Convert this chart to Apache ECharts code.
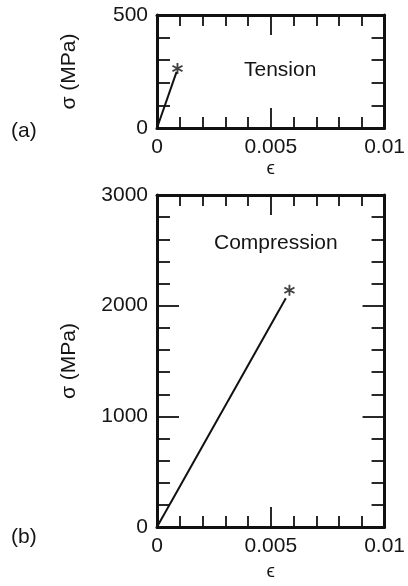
<!DOCTYPE html>
<html>
<head>
<meta charset="utf-8">
<script src="https://cdn.jsdelivr.net/npm/echarts@6/dist/echarts.min.js"></script>
<style>
html,body{margin:0;padding:0;background:#fff;}
#chart{width:408px;height:586px;}
</style>
</head>
<body>
<div id="chart"></div>
<script>
// ---- data ----
const tensionStrain = [0, 0.00086];
const tensionStress = [0, 248];
const tensionFracture = [0.0009, 263];
const compStrain = [0, 0.00566];
const compStress = [0, 2068];
const compFracture = [0.00582, 2140];
const strainRange = [0, 0.01];
const tensionStressRange = [0, 500];
const compStressRange = [0, 3000];
const panelLabels = ['(a)', '(b)'];
const panelTitles = ['Tension', 'Compression'];
const yName = 'σ (MPa)';
const xName = 'ϵ';

const FONT = 'Liberation Sans';
const FS = 21;
const INK = '#111';
const TXT = '#151515';
const starPath = 'path://M-1.6,-10L1.6,-10L1.6,10L-1.6,10Z M7.86,-6.39L9.46,-3.61L-7.86,6.39L-9.46,3.61Z M9.46,3.61L7.86,6.39L-9.46,-3.61L-7.86,-6.39Z';

function zip(a, b) { return a.map((v, i) => [v, b[i]]); }

function xAx(gi, pos, show, name, gap) {
  return {
    type: 'value', gridIndex: gi, position: pos,
    min: strainRange[0], max: strainRange[1], interval: 0.005,
    name: show ? name : '', nameLocation: 'middle', nameGap: gap,
    nameTextStyle: { fontFamily: FONT, fontSize: 19, color: TXT },
    axisLine: { show: true, onZero: false, lineStyle: { color: INK, width: 3 } },
    axisTick: { show: true, inside: true, length: 20, lineStyle: { color: INK, width: 1.8 } },
    minorTick: { show: true, splitNumber: 5, length: 11, lineStyle: { color: INK, width: 1.8 } },
    axisLabel: { show: show, margin: 9, fontFamily: FONT, fontSize: FS, color: TXT,
      formatter: v => String(+(+v).toFixed(4)) },
    splitLine: { show: false }, minorSplitLine: { show: false }
  };
}
function yAx(gi, pos, show, range, interval) {
  return {
    type: 'value', gridIndex: gi, position: pos,
    min: range[0], max: range[1], interval: interval,
    name: show ? yName : '', nameLocation: 'middle', nameGap: 77, nameRotate: 90,
    nameTextStyle: { fontFamily: FONT, fontSize: FS, color: TXT },
    axisLine: { show: true, onZero: false, lineStyle: { color: INK, width: 3 } },
    axisTick: { show: true, inside: true, length: 22, lineStyle: { color: INK, width: 1.8 } },
    minorTick: { show: true, splitNumber: 5, length: 13, lineStyle: { color: INK, width: 1.8 } },
    axisLabel: { show: show, margin: 9, fontFamily: FONT, fontSize: FS, color: TXT,
      formatter: v => String(v) },
    splitLine: { show: false }, minorSplitLine: { show: false }
  };
}

const chart = echarts.init(document.getElementById('chart'), null, { renderer: 'canvas' });
chart.setOption({
  animation: false,
  backgroundColor: '#fff',
  grid: [
    { left: 157, top: 15, width: 229, height: 113 },
    { left: 157, top: 195, width: 229, height: 344 }
  ],
  xAxis: [
    xAx(0, 'bottom', true, xName, 27),
    xAx(0, 'top', false, '', 0),
    xAx(1, 'bottom', true, xName, 30),
    xAx(1, 'top', false, '', 0)
  ],
  yAxis: [
    yAx(0, 'left', true, tensionStressRange, 500),
    yAx(0, 'right', false, tensionStressRange, 500),
    yAx(1, 'left', true, compStressRange, 1000),
    yAx(1, 'right', false, compStressRange, 1000)
  ],
  series: [
    { type: 'line', xAxisIndex: 0, yAxisIndex: 0, data: zip(tensionStrain, tensionStress),
      symbol: 'none', lineStyle: { color: INK, width: 2 } },
    { type: 'scatter', xAxisIndex: 0, yAxisIndex: 0, data: [tensionFracture],
      symbol: starPath, symbolSize: 11, itemStyle: { color: INK } },
    { type: 'line', xAxisIndex: 2, yAxisIndex: 2, data: zip(compStrain, compStress),
      symbol: 'none', lineStyle: { color: INK, width: 2 } },
    { type: 'scatter', xAxisIndex: 2, yAxisIndex: 2, data: [compFracture],
      symbol: starPath, symbolSize: 11, itemStyle: { color: INK } }
  ],
  graphic: [
    { type: 'text', left: 244, top: 60, style: { text: panelTitles[0], font: '21px "' + FONT + '"', fill: TXT } },
    { type: 'text', left: 214, top: 233, style: { text: panelTitles[1], font: '21px "' + FONT + '"', fill: TXT } },
    { type: 'text', left: 11, top: 121, style: { text: panelLabels[0], font: '21px "' + FONT + '"', fill: TXT } },
    { type: 'text', left: 11, top: 527, style: { text: panelLabels[1], font: '21px "' + FONT + '"', fill: TXT } }
  ]
});
</script>
</body>
</html>
